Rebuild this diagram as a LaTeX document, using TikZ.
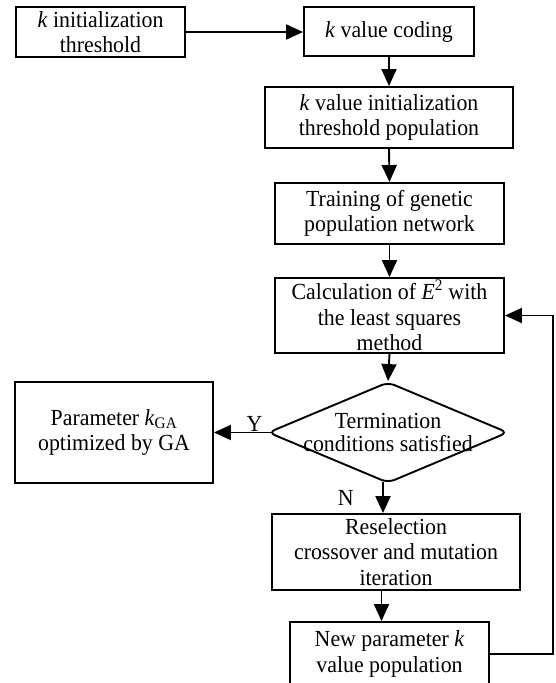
\documentclass[tikz,border=0pt]{standalone}
\usepackage{fontspec}
\setmainfont{Liberation Serif}[FakeStretch=0.95]
\usetikzlibrary{shapes.geometric,arrows.meta,calc}

\tikzset{
  every node/.style={font=\fontsize{23}{25.5}\selectfont},
  procbox/.style={draw, line width=1.9pt, align=center, inner sep=0pt},
  decision/.style={diamond, draw, line width=1.9pt, inner sep=0pt, rounded corners=7pt},
  arr/.style={line width=1.9pt, -{Triangle[length=17pt,width=15pt]}},
  branch/.style={inner sep=0.5pt}
}

\begin{document}
\begin{tikzpicture}[x=1pt, y=-1pt]
  \clip (0,0) rectangle (555,683);
  \fill[white] (0,0) rectangle (555,683);

  % process steps
  \node[procbox, minimum width=169pt, minimum height=50pt] (init) at (100.5,32)
    {\textit{k} initialization\\threshold};
  \node[procbox, minimum width=170pt, minimum height=49pt] (coding) at (389,31.5)
    {\textit{k} value coding};
  \node[procbox, minimum width=248pt, minimum height=61pt] (popinit) at (389,117.5)
    {\textit{k} value initialization\\threshold population};
  \node[procbox, minimum width=229pt, minimum height=61pt] (train) at (389.5,213.5)
    {Training of genetic\\population network};
  \node[procbox, minimum width=229pt, minimum height=75pt] (calc) at (389.5,315.5)
    {Calculation of \textit{E}\textsuperscript{2} with\\the least squares\\method};

  % termination test
  \node[decision, minimum width=240pt, minimum height=101pt] (test) at (388,432.5) {};
  \node[align=center, inner sep=0pt, font=\fontsize{23}{23}\selectfont] (testtxt) at (test.center)
    {Termination\\conditions satisfied};

  \node[procbox, minimum width=198pt, minimum height=101pt] (result) at (114,432.5)
    {Parameter \textit{k}\textsubscript{GA}\\optimized by GA};
  \node[procbox, minimum width=248pt, minimum height=76pt] (resel) at (396,552)
    {Reselection\\crossover and mutation\\iteration};
  \node[procbox, minimum width=199pt, minimum height=64pt] (newpop) at (389.5,654)
    {New parameter \textit{k}\\value population};

  \coordinate (loop) at (553,0);

  % connectors
  \draw[arr] (init.east) -- (init.east -| coding.west);
  \draw[arr] (coding.south) -- (popinit.north);
  \draw[arr] (popinit.south) -- (train.north);
  \draw[arr] (train.south) -- (calc.north);
  \draw[arr] (calc.south) -- (test.north);
  \draw[arr] ($(test.west)+(5,0)$) -- (result.east)
    node[branch, pos=0.3, above] {Y};
  \draw[arr] ($(test.south)+(-5,-2)$) -- ($(test.south |- resel.north)+(-5,0)$)
    node[branch, pos=0.5, left=28pt] {N};
  \draw[arr] ($(resel.south -| newpop.north)+(-8,0)$) -- ($(newpop.north)+(-8,0)$);
  \draw[arr] (newpop.east) -- (newpop.east -| loop) |- (calc.east);
\end{tikzpicture}
\end{document}
